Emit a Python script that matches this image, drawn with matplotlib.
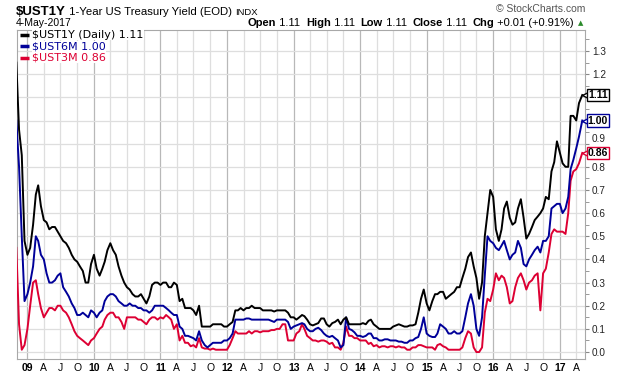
# coding:utf-8
import numpy as np
import pandas as pd
import matplotlib
matplotlib.use("Agg")
import matplotlib.pyplot as plt

# samples on the 1st and 16th of each month, Nov 2008 .. 4 May 2017
months = pd.date_range("2008-11-01", "2017-04-01", freq="MS")
dates = [x for d in months for x in (d, d + pd.Timedelta(days=15))]
dates.append(pd.Timestamp("2017-05-04"))

ust1y = [1.25, 0.96, 0.85, 0.48, 0.42, 0.45, 0.55, 0.68, 0.72, 0.63,
         0.57, 0.56, 0.53, 0.54, 0.54, 0.52, 0.50, 0.48, 0.47, 0.45,
         0.42, 0.40, 0.39, 0.37, 0.35, 0.30, 0.30, 0.38, 0.42, 0.36,
         0.33, 0.36, 0.39, 0.44, 0.47, 0.44, 0.42, 0.37, 0.33, 0.30,
         0.28, 0.27, 0.25, 0.24, 0.24, 0.25, 0.23, 0.21, 0.24, 0.29,
         0.30, 0.30, 0.29, 0.30, 0.30, 0.28, 0.28, 0.30, 0.29, 0.22,
         0.23, 0.19, 0.19, 0.19, 0.18, 0.16, 0.20, 0.11, 0.11, 0.11,
         0.11, 0.12, 0.12, 0.12, 0.12, 0.11, 0.11, 0.12, 0.13, 0.18,
         0.18, 0.19, 0.18, 0.19, 0.19, 0.20, 0.19, 0.19, 0.19, 0.18,
         0.18, 0.18, 0.18, 0.175, 0.18, 0.18, 0.18, 0.18, 0.17, 0.15,
         0.15, 0.14, 0.15, 0.16, 0.155, 0.14, 0.12, 0.115, 0.12, 0.125,
         0.145, 0.145, 0.12, 0.11, 0.125, 0.13, 0.14, 0.12, 0.14, 0.15,
         0.12, 0.12, 0.12, 0.12, 0.12, 0.125, 0.12, 0.135, 0.14, 0.12,
         0.11, 0.10, 0.10, 0.10, 0.10, 0.10, 0.11, 0.115, 0.12, 0.115,
         0.11, 0.11, 0.115, 0.115, 0.12, 0.17, 0.23, 0.27, 0.21, 0.18,
         0.22, 0.25, 0.25, 0.26, 0.26, 0.23, 0.24, 0.25, 0.26, 0.28,
         0.28, 0.32, 0.36, 0.41, 0.43, 0.37, 0.32, 0.23, 0.30, 0.50,
         0.60, 0.70, 0.67, 0.53, 0.48, 0.53, 0.62, 0.65, 0.58, 0.55,
         0.56, 0.62, 0.66, 0.58, 0.49, 0.51, 0.54, 0.57, 0.585, 0.60,
         0.62, 0.67, 0.66, 0.78, 0.82, 0.91, 0.86, 0.815, 0.80, 0.80,
         1.02, 1.02, 1.00, 1.075, 1.11]
ust6m = [1.00, 0.80, 0.50, 0.22, 0.25, 0.30, 0.37, 0.50, 0.48, 0.42,
         0.40, 0.34, 0.30, 0.30, 0.31, 0.33, 0.34, 0.28, 0.26, 0.24,
         0.21, 0.19, 0.16, 0.16, 0.17, 0.16, 0.15, 0.18, 0.17, 0.15,
         0.17, 0.18, 0.22, 0.24, 0.25, 0.25, 0.24, 0.22, 0.21, 0.20,
         0.20, 0.21, 0.20, 0.20, 0.19, 0.19, 0.18, 0.18, 0.17, 0.18,
         0.20, 0.20, 0.20, 0.20, 0.19, 0.18, 0.17, 0.16, 0.16, 0.11,
         0.10, 0.07, 0.07, 0.065, 0.06, 0.05, 0.09, 0.05, 0.03, 0.02,
         0.03, 0.04, 0.04, 0.04, 0.04, 0.05, 0.05, 0.06, 0.08, 0.14,
         0.14, 0.14, 0.14, 0.145, 0.145, 0.14, 0.14, 0.14, 0.14, 0.14,
         0.14, 0.14, 0.135, 0.13, 0.14, 0.14, 0.14, 0.14, 0.13, 0.10,
         0.11, 0.115, 0.12, 0.125, 0.12, 0.10, 0.09, 0.09, 0.10, 0.105,
         0.095, 0.08, 0.07, 0.065, 0.07, 0.06, 0.05, 0.02, 0.03, 0.15,
         0.10, 0.095, 0.085, 0.07, 0.07, 0.065, 0.07, 0.08, 0.08, 0.06,
         0.06, 0.05, 0.05, 0.055, 0.055, 0.05, 0.05, 0.05, 0.045, 0.045,
         0.04, 0.04, 0.05, 0.05, 0.06, 0.065, 0.10, 0.15, 0.08, 0.07,
         0.065, 0.065, 0.08, 0.12, 0.11, 0.10, 0.08, 0.08, 0.09, 0.08,
         0.08, 0.09, 0.15, 0.21, 0.25, 0.20, 0.10, 0.07, 0.15, 0.33,
         0.50, 0.48, 0.47, 0.45, 0.44, 0.46, 0.48, 0.44, 0.40, 0.42,
         0.43, 0.48, 0.45, 0.38, 0.37, 0.40, 0.42, 0.44, 0.455, 0.43,
         0.48, 0.48, 0.50, 0.62, 0.63, 0.64, 0.64, 0.60, 0.62, 0.67,
         0.79, 0.83, 0.88, 0.93, 1.00]
ust3m = [0.45, 0.12, 0.01, 0.03, 0.10, 0.20, 0.30, 0.31, 0.25, 0.19,
         0.15, 0.17, 0.19, 0.19, 0.18, 0.20, 0.20, 0.18, 0.17, 0.15,
         0.12, 0.09, 0.07, 0.06, 0.05, 0.04, 0.03, 0.05, 0.06, 0.08,
         0.10, 0.11, 0.14, 0.16, 0.17, 0.17, 0.15, 0.15, 0.13, 0.10,
         0.15, 0.15, 0.15, 0.15, 0.14, 0.14, 0.13, 0.12, 0.14, 0.15,
         0.15, 0.14, 0.15, 0.145, 0.16, 0.15, 0.14, 0.10, 0.12, 0.05,
         0.07, 0.04, 0.04, 0.025, 0.03, 0.02, 0.06, 0.02, 0.015, 0.015,
         0.01, 0.015, 0.01, 0.01, 0.01, 0.01, 0.01, 0.03, 0.06, 0.09,
         0.08, 0.08, 0.08, 0.08, 0.09, 0.08, 0.09, 0.09, 0.085, 0.09,
         0.09, 0.09, 0.095, 0.095, 0.10, 0.10, 0.12, 0.12, 0.05, 0.05,
         0.05, 0.08, 0.09, 0.12, 0.10, 0.07, 0.06, 0.05, 0.05, 0.045,
         0.05, 0.05, 0.045, 0.035, 0.04, 0.02, 0.02, 0.01, 0.04, 0.11,
         0.07, 0.07, 0.06, 0.06, 0.05, 0.05, 0.05, 0.035, 0.04, 0.025,
         0.03, 0.02, 0.025, 0.025, 0.02, 0.025, 0.025, 0.02, 0.025, 0.02,
         0.02, 0.01, 0.01, 0.02, 0.02, 0.03, 0.03, 0.025, 0.02, 0.02,
         0.02, 0.01, 0.03, 0.035, 0.025, 0.02, 0.01, 0.01, 0.01, 0.01,
         0.01, 0.02, 0.06, 0.09, 0.08, 0.02, 0.00, 0.00, 0.02, 0.17,
         0.23, 0.22, 0.27, 0.34, 0.31, 0.33, 0.32, 0.28, 0.21, 0.22,
         0.28, 0.32, 0.34, 0.31, 0.27, 0.30, 0.31, 0.33, 0.34, 0.18,
         0.34, 0.36, 0.43, 0.51, 0.53, 0.52, 0.52, 0.52, 0.51, 0.60,
         0.74, 0.78, 0.79, 0.815, 0.86]

names = ["$UST1Y (Daily)", "$UST6M", "$UST3M"]
colors = ["#000000", "#000099", "#dd0033"]
series = [ust1y, ust6m, ust3m]

header = [("Open", "1.11"), ("High", "1.11"), ("Low", "1.11"),
          ("Close", "1.11"), ("Chg", "+0.01 (+0.91%)")]

W, H = 620, 376
fig = plt.figure(figsize=(W / 100, H / 100), dpi=100)
ax = fig.add_axes([16.5 / W, 1 - 359 / H, (585 - 16.5) / W, (359 - 29.5) / H])

# grid
quarters = pd.date_range("2009-01-01", "2017-04-01", freq="QS")
for d in quarters:
    ax.axvline(d, color="#b8b8b8" if d.month == 1 else "#dedede",
               lw=0.9, zorder=0)
yticks = np.arange(0, 1.31, 0.1)
ax.set_yticks(yticks)
ax.set_yticks(np.arange(0, 1.36, 0.05), minor=True)
ax.grid(axis="y", which="major", color="#dedede", lw=0.9, zorder=0)

for vals, c in zip(series[::-1], colors[::-1]):
    ax.plot(dates, vals, color=c, lw=1.4, zorder=3)

ax.set_xlim(pd.Timestamp("2008-11-02"), pd.Timestamp("2017-05-19"))
ax.set_ylim(-0.03, 1.393)

# axes styling
for s in ax.spines.values():
    s.set_color("#a8a8a8")
ax.yaxis.tick_right()
# the 1.0 and 1.1 labels sit under the last-value tags
ax.set_yticklabels(["" if round(v, 1) in (1.0, 1.1) else "%.1f" % v
                    for v in yticks])
ax.tick_params(axis="y", which="both", direction="out", length=3,
               color="#888888", labelsize=7.2, labelcolor="#222222", pad=2)
ax.set_xticks(quarters)
xlabels = ["%02d" % (d.year % 100) if d.month == 1
           else {4: "A", 7: "J", 10: "O"}[d.month] for d in quarters]
ax.set_xticklabels(xlabels)
ax.tick_params(axis="x", length=0, labelsize=7.5, pad=3)
for lab, d in zip(ax.get_xticklabels(), quarters):
    lab.set_fontfamily("Liberation Sans")
    if d.month == 1:
        lab.set_fontweight("bold")
for lab in ax.get_yticklabels():
    lab.set_fontfamily("Liberation Sans")
    if lab.get_text() == "0.9":
        lab.set_va("bottom")

# legend entries in top-left
for i, (n, vals, c) in enumerate(zip(names, series, colors)):
    yy = (359 - (34.7 + 11.5 * i)) / 329.5
    ax.plot([0.006, 0.022], [yy, yy], transform=ax.transAxes, color=c,
            lw=2.5, solid_capstyle="butt", zorder=5)
    ax.text(0.0275, yy, "%s %.2f" % (n, vals[-1]), transform=ax.transAxes,
            color=c, fontsize=8, va="center", ha="left", zorder=5,
            family="DejaVu Sans",
            bbox=dict(facecolor="white", edgecolor="none", pad=0.3))

# last value tags on the right
for vals, c in zip(series, colors):
    ax.plot([1.003], [vals[-1]], marker="<", ms=6.5, mfc="white", mec=c,
            mew=1, transform=ax.get_yaxis_transform(), clip_on=False,
            zorder=6)
    ax.text(1.0225, vals[-1], "%.2f" % vals[-1],
            transform=ax.get_yaxis_transform(), ha="center", va="center",
            fontsize=7.5, fontweight="bold", family="Liberation Sans",
            zorder=7, clip_on=False,
            bbox=dict(boxstyle="square,pad=0.1", facecolor="white",
                      edgecolor=c, lw=1))

# header texts
renderer = fig.canvas.get_renderer()


def write_row(parts, x, y, gap=0):
    for s, size, weight in parts:
        t = fig.text(x / W, 1 - y / H, s, fontsize=size, fontweight=weight,
                     family="Liberation Sans", va="baseline", ha="left")
        x += t.get_window_extent(renderer).width
        if weight == "normal":
            x += gap
    return x


write_row([("$UST1Y", 9.5, "bold"),
           (" 1-Year US Treasury Yield (EOD) ", 8.2, "normal"),
           ("INDX", 6.8, "normal")], 16, 15)
fig.text(16 / W, 1 - 26.5 / H, "4-May-2017", fontsize=7.5,
         family="Liberation Sans", va="baseline", ha="left")

parts = []
for lab, val in header:
    parts.append((lab, 8, "bold"))
    parts.append((" " + val + " ", 8, "normal"))
end = write_row(parts, 248, 26.5, gap=2.5)
fig.text(578 / W, 1 - 25.5 / H, "\u25b2", fontsize=5, color="#2a8a2a",
         va="baseline", ha="left")
fig.text(585 / W, 1 - 11.7 / H, "\u00a9 StockCharts.com", fontsize=7.5,
         color="#555555", family="Liberation Sans", va="baseline", ha="right")

fig.savefig("out.png", dpi=100)
